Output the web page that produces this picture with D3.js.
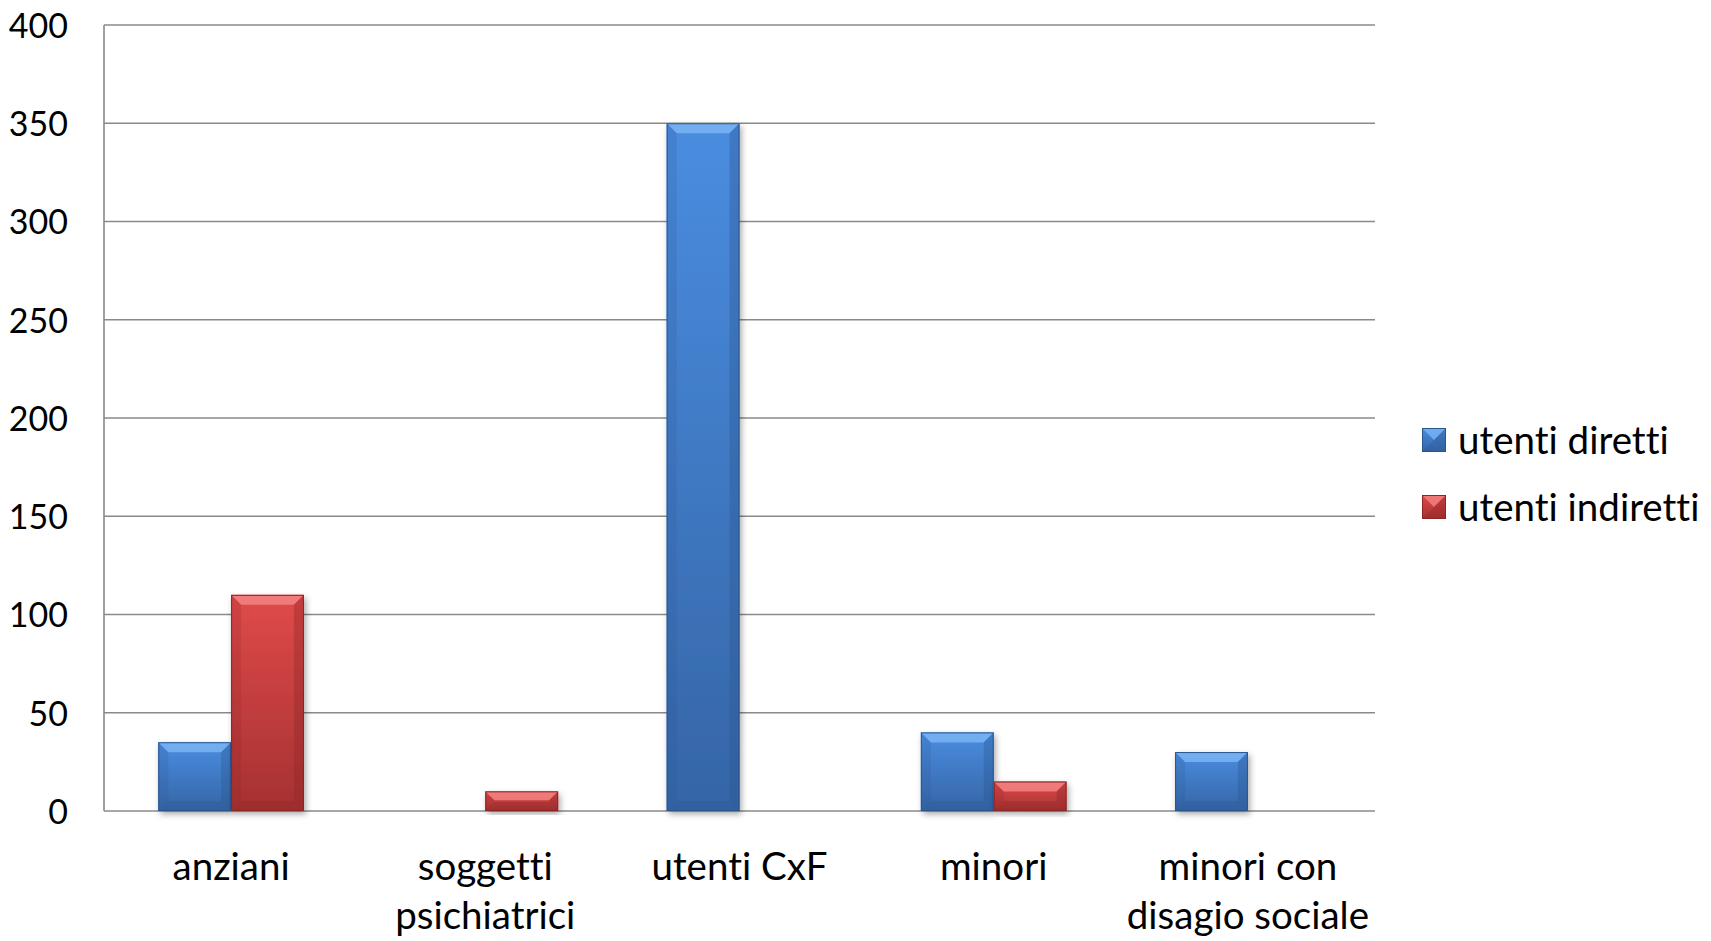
<!DOCTYPE html>
<html><head><meta charset="utf-8">
<script src="https://cdn.jsdelivr.net/npm/d3@7"></script>
<style>
html,body{margin:0;padding:0;background:#fff;}
svg{display:block;}
text{font-family:Lato, "Open Sans", sans-serif;fill:#000;font-variant-ligatures:none;font-feature-settings:"liga" 0, "clig" 0;}
</style></head>
<body>
<svg id="chart" width="1711" height="941"></svg>
<script>
const categories = [["anziani"], ["soggetti", "psichiatrici"], ["utenti CxF"], ["minori"], ["minori con", "disagio sociale"]];
const seriesNames = ["utenti diretti", "utenti indiretti"];
const utentiDiretti = [35, null, 350, 40, 30];
const utentiIndiretti = [110, 10, null, 15, null];
const yTicks = [0, 50, 100, 150, 200, 250, 300, 350, 400];

const palettes = {
  "utenti diretti": {top:"#4a8de0", bottom:"#3565a6", light:"#7ab4f5", dark:"#2a5590", edge:"#2b578f"},
  "utenti indiretti": {top:"#e04a4a", bottom:"#a53131", light:"#f58383", dark:"#8c2424", edge:"#8a2626"}
};

const svg = d3.select("#chart");
const M = {left:104, right:1375, top:25, bottom:811};
const catKeys = categories.map(c => c.join(" "));
const x0 = d3.scaleBand().domain(catKeys).range([M.left, M.right]).padding(0);
const x1 = d3.scaleBand().domain(seriesNames).range([0, x0.bandwidth()]).paddingInner(0).paddingOuter(0.745);
const y = d3.scaleLinear().domain([0, 400]).range([M.bottom, M.top]);

const defs = svg.append("defs");
seriesNames.forEach((s, i) => {
  const p = palettes[s];
  const g = defs.append("linearGradient").attr("id", "grad" + i).attr("x1", 0).attr("y1", 0).attr("x2", 0).attr("y2", 1);
  g.append("stop").attr("offset", "0%").attr("stop-color", p.top);
  g.append("stop").attr("offset", "100%").attr("stop-color", p.bottom);
});
const f = defs.append("filter").attr("id", "shadow").attr("x", "-20%").attr("y", "-20%").attr("width", "140%").attr("height", "140%");
f.append("feDropShadow").attr("dx", 2).attr("dy", 3).attr("stdDeviation", 3).attr("flood-color", "#000").attr("flood-opacity", 0.35);

// gridlines
const grid = svg.append("g");
grid.selectAll("line").data(yTicks).join("line")
  .attr("x1", M.left).attr("x2", M.right)
  .attr("y1", d => y(d)).attr("y2", d => y(d))
  .attr("stroke", "#8a8a8a").attr("stroke-width", 1.6);
svg.append("line").attr("x1", M.left).attr("x2", M.left).attr("y1", y(400)).attr("y2", y(0))
  .attr("stroke", "#8a8a8a").attr("stroke-width", 1.6);

// y tick labels
const yAxis = d3.axisLeft(y).tickValues(yTicks).tickSize(0).tickPadding(36);
const ya = svg.append("g").attr("transform", `translate(${M.left},0)`).call(yAxis);
ya.select(".domain").remove();
ya.selectAll("text").attr("font-size", 34).attr("font-family", "Lato, 'Open Sans', sans-serif").attr("fill", "#000").attr("dy", "0.36em");

function bevelBar(g, x, yTop, w, h, p, gi) {
  const b = Math.min(10, h / 2.2, w / 2.2);
  const grp = g.append("g");
  grp.append("rect").attr("x", x).attr("y", yTop).attr("width", w).attr("height", h)
    .attr("fill", `url(#grad${gi})`).attr("filter", "url(#shadow)");
  grp.append("polygon").attr("points", [[x,yTop],[x+w,yTop],[x+w-b,yTop+b],[x+b,yTop+b]].join(" "))
    .attr("fill", p.light).attr("opacity", 0.85);
  grp.append("polygon").attr("points", [[x,yTop],[x+b,yTop+b],[x+b,yTop+h-b],[x,yTop+h]].join(" "))
    .attr("fill", p.dark).attr("opacity", 0.18);
  grp.append("polygon").attr("points", [[x+w,yTop],[x+w-b,yTop+b],[x+w-b,yTop+h-b],[x+w,yTop+h]].join(" "))
    .attr("fill", p.dark).attr("opacity", 0.35);
  grp.append("polygon").attr("points", [[x,yTop+h],[x+b,yTop+h-b],[x+w-b,yTop+h-b],[x+w,yTop+h]].join(" "))
    .attr("fill", p.dark).attr("opacity", 0.3);
  grp.append("rect").attr("x", x + 0.5).attr("y", yTop + 0.5).attr("width", w - 1).attr("height", h - 1)
    .attr("fill", "none").attr("stroke", p.edge).attr("stroke-width", 1);
}

const barsG = svg.append("g");
const seriesData = [utentiDiretti, utentiIndiretti];
catKeys.forEach((c, ci) => {
  seriesNames.forEach((s, si) => {
    const v = seriesData[si][ci];
    if (v == null || v === 0) return;
    const bx = x0(c) + x1(s);
    const by = y(v);
    bevelBar(barsG, bx, by, x1.bandwidth(), y(0) - by, palettes[s], si);
  });
});

// category labels
const xl = svg.append("g");
categories.forEach((lines, ci) => {
  const cx = x0(catKeys[ci]) + x0.bandwidth() / 2;
  const t = xl.append("text").attr("text-anchor", "middle").attr("font-size", 38.5).attr("x", cx).attr("y", 880);
  lines.forEach((ln, li) => {
    t.append("tspan").attr("x", cx).attr("y", 880 + li * 49).text(ln);
  });
});

// legend
const leg = svg.append("g");
seriesNames.forEach((s, i) => {
  const p = palettes[s];
  const ly = 440 + i * 67;
  const sx = 1422, sy = ly - 12, sz = 24, c = sz / 2;
  const gg = leg.append("g");
  gg.append("rect").attr("x", sx).attr("y", sy).attr("width", sz).attr("height", sz).attr("fill", `url(#grad${i})`);
  gg.append("polygon").attr("points", [[sx,sy],[sx+sz,sy],[sx+c,sy+c]].join(" ")).attr("fill", p.light).attr("opacity", 0.8);
  gg.append("polygon").attr("points", [[sx+sz,sy],[sx+sz,sy+sz],[sx+c,sy+c]].join(" ")).attr("fill", p.dark).attr("opacity", 0.35);
  gg.append("polygon").attr("points", [[sx,sy+sz],[sx+sz,sy+sz],[sx+c,sy+c]].join(" ")).attr("fill", p.dark).attr("opacity", 0.3);
  gg.append("rect").attr("x", sx + 0.5).attr("y", sy + 0.5).attr("width", sz - 1).attr("height", sz - 1).attr("fill", "none").attr("stroke", p.edge);
  leg.append("text").attr("x", 1458).attr("y", ly).attr("dy", "0.36em").attr("font-size", 38.5).text(s);
});
</script>
</body></html>
